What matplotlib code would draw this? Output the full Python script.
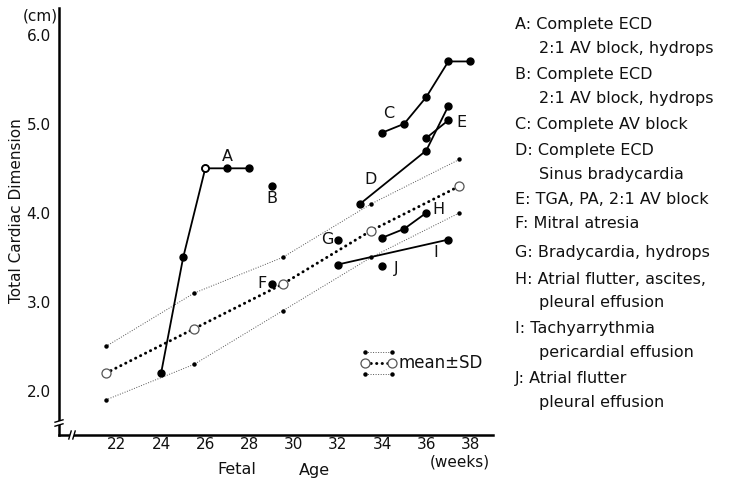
import matplotlib
matplotlib.use("Agg")
import matplotlib.pyplot as plt

plt.rcParams['font.family'] = ['DejaVu Sans']

# ---------------- data ----------------
mean_weeks = [21.5, 25.5, 29.5, 33.5, 37.5]
mean_vals = [2.2, 2.7, 3.2, 3.8, 4.3]
sd_upper = [2.5, 3.1, 3.5, 4.1, 4.6]
sd_lower = [1.9, 2.3, 2.9, 3.5, 4.0]

case_A_weeks = [24, 25, 26, 27, 28]
case_A_vals = [2.2, 3.5, 4.5, 4.5, 4.5]
case_B_weeks = [29]
case_B_vals = [4.3]
case_C_weeks = [34, 35, 36, 37, 38]
case_C_vals = [4.9, 5.0, 5.3, 5.7, 5.7]
case_D_weeks = [33, 36, 37]
case_D_vals = [4.1, 4.7, 5.2]
case_E_weeks = [36, 37]
case_E_vals = [4.84, 5.04]
case_F_weeks = [29]
case_F_vals = [3.2]
case_G_weeks = [32]
case_G_vals = [3.7]
case_H_weeks = [34, 35, 36]
case_H_vals = [3.72, 3.82, 4.0]
case_I_weeks = [32, 37]
case_I_vals = [3.42, 3.7]
case_J_weeks = [34]
case_J_vals = [3.4]

case_labels = ['A', 'B', 'C', 'D', 'E', 'F', 'G', 'H', 'I', 'J']
label_pos = [(27.0, 4.63), (29.0, 4.16), (34.3, 5.12), (33.5, 4.38), (37.6, 5.01),
             (28.55, 3.21), (31.5, 3.70), (36.55, 4.04), (36.45, 3.55), (34.65, 3.37)]

x_ticks = [22, 24, 26, 28, 30, 32, 34, 36, 38]
y_ticks = [2.0, 3.0, 4.0, 5.0, 6.0]
y_ticklabels = ['2.0', '3.0', '4.0', '5.0', '6.0']

descriptions = [
    ('A:', 'Complete ECD'), ('', '2:1 AV block, hydrops'),
    ('B:', 'Complete ECD'), ('', '2:1 AV block, hydrops'),
    ('C:', 'Complete AV block'),
    ('D:', 'Complete ECD'), ('', 'Sinus bradycardia'),
    ('E:', 'TGA, PA, 2:1 AV block'),
    ('F:', 'Mitral atresia'),
    ('G:', 'Bradycardia, hydrops'),
    ('H:', 'Atrial flutter, ascites,'), ('', 'pleural effusion'),
    ('I:', 'Tachyarrythmia'), ('', 'pericardial effusion'),
    ('J:', 'Atrial flutter'), ('', 'pleural effusion'),
]
desc_y_px = [25, 49, 75, 98, 124, 150, 174, 199, 224, 253, 279, 302, 328, 352, 378, 403]

# ---------------- figure ----------------
W, H = 731, 484
fig = plt.figure(figsize=(W / 100, H / 100), dpi=100)
ax_l, ax_b, ax_w, ax_h = 59, 49, 434, 427
ax = fig.add_axes([ax_l / W, ax_b / H, ax_w / W, ax_h / H])
ax.set_xlim(19.38, 39.02)
ax.set_ylim(1.506, 6.30)

for s in ['top', 'right']:
    ax.spines[s].set_visible(False)
for s in ['left', 'bottom']:
    ax.spines[s].set_linewidth(1.8)
    ax.spines[s].set_color('black')

ax.set_xticks(x_ticks)
ax.set_xticklabels([str(t) for t in x_ticks])
ax.set_yticks(y_ticks)
ax.set_yticklabels(y_ticklabels)
ax.tick_params(axis='both', length=0, labelsize=11, colors='#111111')
ax.tick_params(axis='y', pad=6)
ax.tick_params(axis='x', pad=1.5)

# SD lines
for sd in (sd_upper, sd_lower):
    ax.plot(mean_weeks, sd, color='#555555', lw=0.7, linestyle=(0, (1, 1.6)),
            marker='o', markersize=2.2, mfc='black', mec='black', zorder=2)
# mean line
ax.plot(mean_weeks, mean_vals, color='black', lw=2.1, linestyle=(0, (0.1, 1.8)),
        dash_capstyle='round', zorder=3)
ax.plot(mean_weeks, mean_vals, linestyle='none', marker='o', markersize=6.5,
        mfc='white', mec='#555555', mew=0.9, zorder=4)

# cases
cases = [(case_A_weeks, case_A_vals), (case_B_weeks, case_B_vals),
         (case_C_weeks, case_C_vals), (case_D_weeks, case_D_vals),
         (case_E_weeks, case_E_vals), (case_F_weeks, case_F_vals),
         (case_G_weeks, case_G_vals), (case_H_weeks, case_H_vals),
         (case_I_weeks, case_I_vals), (case_J_weeks, case_J_vals)]
for wk, vals in cases:
    ax.plot(wk, vals, color='black', lw=1.3, marker='o', markersize=5,
            mfc='black', mec='black', zorder=5)
# open-looking point at top of A's rise
ax.plot(case_A_weeks[2:3], case_A_vals[2:3], linestyle='none', marker='o',
        markersize=5, mfc='white', mec='black', mew=1.3, zorder=6)

for lab, (lx, ly) in zip(case_labels, label_pos):
    ax.text(lx, ly, lab, fontsize=11.5, ha='center', va='center', color='#111111')

# legend (drawn in axes fraction)
lx0, lx1 = (365 - ax_l) / ax_w, (392 - ax_l) / ax_w
ly_mid = (435 - 363) / ax_h
ly_up = (435 - 352) / ax_h
ly_lo = (435 - 374) / ax_h
for yy in (ly_up, ly_lo):
    ax.plot([lx0, lx1], [yy, yy], transform=ax.transAxes, color='#555555', lw=0.7,
            linestyle=(0, (1, 1.6)), marker='o', markersize=2.2, mfc='black',
            mec='black', clip_on=False)
ax.plot([lx0, lx1], [ly_mid, ly_mid], transform=ax.transAxes, color='black', lw=2.1,
        linestyle=(0, (0.1, 1.8)), dash_capstyle='round', clip_on=False)
ax.plot([lx0, lx1], [ly_mid, ly_mid], transform=ax.transAxes, linestyle='none',
        marker='o', markersize=6.5, mfc='white', mec='#555555', mew=0.9, clip_on=False)
ax.text((399 - ax_l) / ax_w, ly_mid, 'mean\u00b1SD', transform=ax.transAxes,
        fontsize=12, ha='left', va='center', color='#111111')

# axis breaks
by = 12 / ax_h
ax.plot([0, 0], [by - 2 / ax_h, by + 2 / ax_h], transform=ax.transAxes,
        color='white', lw=3, solid_capstyle='butt', clip_on=False, zorder=10)
for dy in (-2, 2):
    ax.plot([-4 / ax_w, 4 / ax_w], [by + (dy - 1.2) / ax_h, by + (dy + 1.2) / ax_h],
            transform=ax.transAxes, color='black', lw=1.0, clip_on=False, zorder=11)
bx = 13 / ax_w
ax.plot([bx - 2 / ax_w, bx + 2 / ax_w], [0, 0], transform=ax.transAxes,
        color='white', lw=3, solid_capstyle='butt', clip_on=False, zorder=10)
for dx in (-2, 2):
    ax.plot([bx + (dx - 1.2) / ax_w, bx + (dx + 1.2) / ax_w], [-4 / ax_h, 4 / ax_h],
            transform=ax.transAxes, color='black', lw=1.0, clip_on=False, zorder=11)

# axis titles
fig.text(17 / W, 1 - 211 / H, 'Total Cardiac Dimension', rotation=90, fontsize=11,
         ha='center', va='center', color='#111111')
fig.text(40 / W, 1 - 16 / H, '(cm)', fontsize=11, ha='center', va='center', color='#111111')
fig.text(237 / W, 1 - 470 / H, 'Fetal', fontsize=11.5, ha='center', va='center', color='#111111')
fig.text(314 / W, 1 - 470 / H, 'Age', fontsize=11.5, ha='center', va='center', color='#111111')
fig.text(460 / W, 1 - 462 / H, '(weeks)', fontsize=11, ha='center', va='center', color='#111111')

# descriptions on the right
for (key, txt), ypx in zip(descriptions, desc_y_px):
    if key:
        fig.text(515 / W, 1 - ypx / H, key + ' ' + txt, fontsize=11.5, ha='left',
                 va='center', color='#111111')
    else:
        fig.text(539 / W, 1 - ypx / H, txt, fontsize=11.5, ha='left', va='center',
                 color='#111111')

fig.savefig('out.png', dpi=100, facecolor='white')
